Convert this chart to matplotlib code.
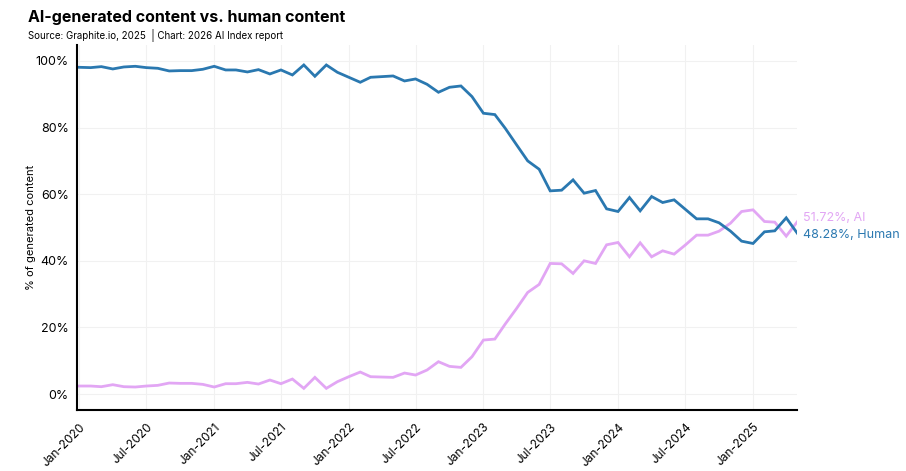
import matplotlib
matplotlib.use("Agg")
import matplotlib.pyplot as plt
import pandas as pd

plt.rcParams['font.family'] = ['Inter', 'DejaVu Sans']

# monthly share of generated content, Jan-2020 .. May-2025
months = pd.date_range("2020-01-01", "2025-05-01", freq="MS")

human = [98.1, 98.0, 98.3, 97.6, 98.2, 98.4, 98.0, 97.8, 97.0, 97.1, 97.1, 97.5,
         98.4, 97.3, 97.3, 96.7, 97.4, 96.1, 97.3, 95.8, 98.8, 95.4, 98.8, 96.6,
         95.1, 93.6, 95.1, 95.3, 95.5, 94.0, 94.6, 93.0, 90.6, 92.1, 92.5, 89.3,
         84.3, 83.9, 79.8, 74.8, 70.0, 67.5, 61.0, 61.2, 64.3, 60.3, 61.1, 55.6,
         54.8, 59.0, 55.0, 59.3, 57.5, 58.3, 55.5, 52.6, 52.6, 51.4, 48.9, 45.9,
         45.2, 48.7, 49.0, 52.9, 48.28]

ai = [2.4, 2.4, 2.2, 2.8, 2.2, 2.1, 2.4, 2.6, 3.3, 3.2, 3.2, 2.9,
      2.1, 3.1, 3.1, 3.5, 3.0, 4.2, 3.1, 4.5, 1.7, 5.0, 1.7, 3.7,
      5.2, 6.6, 5.2, 5.1, 5.0, 6.3, 5.7, 7.2, 9.7, 8.3, 8.0, 11.2,
      16.2, 16.5, 21.0, 25.7, 30.5, 32.9, 39.2, 39.1, 36.2, 40.0, 39.2, 44.8,
      45.5, 41.2, 45.4, 41.2, 43.0, 42.0, 44.7, 47.7, 47.7, 48.9, 51.3, 54.8,
      55.3, 51.8, 51.6, 47.4, 51.72]

tick_dates = pd.date_range("2020-01-01", "2025-01-01", freq="6MS")
tick_labels = [d.strftime("%b-%Y") for d in tick_dates]
y_ticks = [0, 20, 40, 60, 80, 100]

c_human = '#2a78b0'
c_ai = '#e2a6f4'

fig = plt.figure(figsize=(9.06, 4.71), dpi=100)
ax = fig.add_axes([0.085, 0.1295, 0.795, 0.775])

ax.plot(months, ai, color=c_ai, lw=2.0, solid_joinstyle='miter')
ax.plot(months, human, color=c_human, lw=2.0, solid_joinstyle='miter')

ax.set_xlim(pd.Timestamp("2019-12-26"), months[-1])
ax.set_ylim(-4.8, 104.8)

ax.set_xticks(tick_dates)
ax.set_xticklabels(tick_labels, rotation=45, ha='right', rotation_mode='anchor', fontsize=8.5)
ax.set_yticks(y_ticks)
ax.set_yticklabels([f"{v}%" for v in y_ticks], fontsize=9)
ax.tick_params(length=0, pad=6)
ax.tick_params(axis='x', pad=8)

ax.grid(True, color='#f1f1f1', lw=0.8)
ax.set_axisbelow(True)
for s in ['top', 'right']:
    ax.spines[s].set_visible(False)
for s in ['left', 'bottom']:
    ax.spines[s].set_linewidth(1.5)
    ax.spines[s].set_color('black')

ax.set_ylabel("% of generated content", fontsize=8, labelpad=0)

# end labels
ax.annotate(f"{ai[-1]:.2f}%, AI", xy=(months[-1], ai[-1]), xytext=(4, 3),
            textcoords='offset points', color=c_ai, fontsize=9, va='center')
ax.annotate(f"{human[-1]:.2f}%, Human", xy=(months[-1], human[-1]), xytext=(4, -1),
            textcoords='offset points', color=c_human, fontsize=9, va='center')

fig.text(0.031, 0.962, "AI-generated content vs. human content", fontsize=11.5,
         fontweight='bold', va='center')
fig.text(0.031, 0.925, "Source: Graphite.io, 2025  | Chart: 2026 AI Index report",
         fontsize=7, va='center')

fig.savefig("out.png", dpi=100)
